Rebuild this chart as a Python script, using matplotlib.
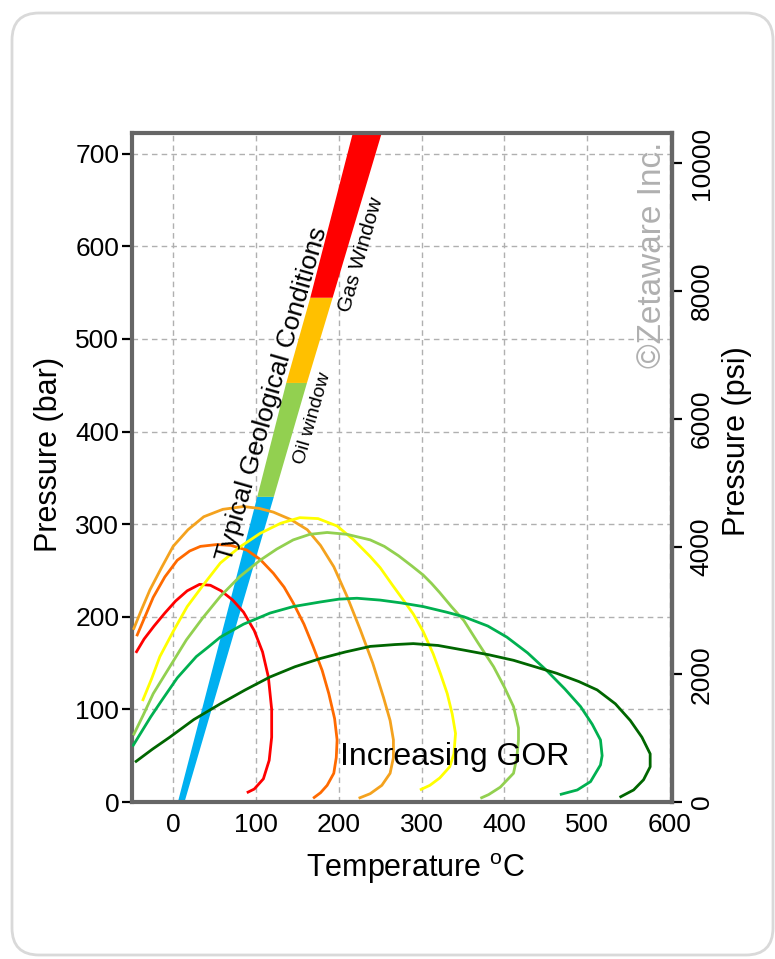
"""plot.py

Phase envelopes of reservoir fluids with increasing GOR, plotted against the
typical geological P-T path (oil window / gas window).
"""

import matplotlib
matplotlib.use("Agg")
import matplotlib.pyplot as plt
from matplotlib.patches import FancyBboxPatch


# ------------------------------- data ---------------------------------- #
# geological band: pressure cuts and left/right edge temperature at each cut
band_p = [0, 330, 453, 545, 725]
band_t_left = [5, 101, 136, 165, 217]
band_t_right = [13, 121, 161, 192, 252]
band_colors = ["#00B0F0", "#92D050", "#FFC000", "#FF0000"]

# phase envelopes, lowest GOR first (temperature degC, pressure bar)
red_t = [-45, -35, -23, -10, 3, 17, 32, 45, 58, 72, 85, 98, 108, 115, 119, 119, 116, 109, 98, 89]
red_p = [161, 176, 190, 204, 217, 228, 235, 234, 228, 218, 205, 185, 162, 135, 100, 70, 45, 25, 14, 10]

dorange_t = [-44, -34, -24, -10, 5, 20, 33, 53, 70, 89, 105, 121, 134, 145, 158, 169, 180, 188, 195, 198, 197, 194, 186, 178, 169]
dorange_p = [179, 200, 221, 243, 261, 271, 276, 278, 277, 272, 262, 247, 232, 215, 192, 168, 142, 117, 90, 67, 48, 31, 18, 10, 4]

amber_t = [-48, -38, -28, -14, 0, 18, 37, 60, 85, 104, 121, 142, 162, 178, 194, 210, 226, 241, 254, 262, 266, 266, 262, 252, 238, 224]
amber_p = [186, 208, 229, 253, 276, 294, 308, 316, 319, 317, 313, 305, 294, 277, 254, 222, 186, 150, 113, 88, 67, 48, 31, 18, 9, 4]

yellow_t = [-37, -26, -16, 0, 17, 37, 57, 80, 105, 130, 153, 175, 198, 218, 238, 250, 265, 278, 290, 302, 314, 323, 331, 337, 341, 339, 334, 322, 310, 298]
yellow_p = [109, 133, 157, 184, 211, 235, 258, 275, 290, 301, 307, 306, 298, 283, 265, 253, 234, 218, 203, 184, 160, 138, 117, 95, 74, 52, 38, 26, 18, 13]

lgreen_t = [-48, -36, -24, -4, 16, 36, 57, 80, 105, 125, 145, 165, 186, 210, 238, 255, 272, 288, 302, 312, 322, 336, 351, 368, 387, 400, 411, 417, 417, 415, 411, 395, 381, 371]
lgreen_p = [72, 94, 117, 146, 175, 199, 222, 243, 261, 273, 283, 289, 291, 289, 283, 276, 266, 255, 245, 236, 226, 211, 196, 172, 146, 124, 103, 80, 67, 48, 31, 16, 8, 4]

mgreen_t = [-49, -38, -27, -15, -5, 5, 15, 28, 42, 57, 85, 117, 145, 178, 200, 222, 250, 275, 302, 330, 351, 380, 403, 428, 451, 473, 492, 506, 516, 518, 516, 504, 488, 467]
mgreen_p = [60, 76, 92, 108, 121, 134, 144, 157, 167, 178, 192, 204, 211, 216, 219, 220, 218, 215, 211, 205, 200, 190, 178, 161, 142, 122, 103, 84, 67, 50, 40, 22, 13, 8]

dgreen_t = [-46, -25, -4, 25, 57, 87, 117, 147, 178, 208, 238, 268, 290, 320, 351, 381, 411, 437, 463, 490, 512, 534, 552, 566, 576, 576, 568, 556, 539]
dgreen_p = [43, 57, 70, 89, 106, 121, 135, 146, 155, 162, 168, 170, 171, 169, 164, 159, 153, 146, 139, 130, 121, 106, 88, 70, 52, 38, 24, 13, 5]

envelopes = [
    (red_t, red_p, "#FF0000"),
    (dorange_t, dorange_p, "#FF6A00"),
    (amber_t, amber_p, "#F4A21E"),
    (yellow_t, yellow_p, "#FFFF00"),
    (lgreen_t, lgreen_p, "#92D050"),
    (mgreen_t, mgreen_p, "#00B050"),
    (dgreen_t, dgreen_p, "#006600"),
]

x_ticks = [0, 100, 200, 300, 400, 500, 600]
bar_ticks = [0, 100, 200, 300, 400, 500, 600, 700]
psi_ticks = [0, 2000, 4000, 6000, 8000, 10000]
PSI_PER_BAR = 14.5038

# ------------------------------- style --------------------------------- #
plt.rcParams["font.family"] = ["Liberation Sans", "DejaVu Sans"]
plt.rcParams["mathtext.fontset"] = "custom"
plt.rcParams["mathtext.rm"] = "Liberation Sans"
SPINE = "#666666"

fig = plt.figure(figsize=(7.75, 9.59), dpi=100)

# rounded card behind the chart
card = FancyBboxPatch(
    (12 / 775, 1 - 955 / 959), 761 / 775, 942 / 959,
    boxstyle="round,pad=0,rounding_size=0.035", mutation_aspect=775 / 959,
    transform=fig.transFigure, fc="white", ec="#d9d9d9", lw=2, zorder=-10,
)
fig.add_artist(card)

ax = fig.add_axes([131.7 / 775, 1 - 802 / 959, 540 / 775, 668.7 / 959])
ax.set_xlim(-50, 602)
ax.set_ylim(0, 722)

# ------------------------------ drawing -------------------------------- #
for i, col in enumerate(band_colors):
    ax.fill_betweenx(band_p[i:i + 2], band_t_left[i:i + 2], band_t_right[i:i + 2],
                     color=col, lw=0, zorder=2)

for t, p, col in envelopes:
    ax.plot(t, p, color=col, lw=2, zorder=3, solid_joinstyle="round",
            solid_capstyle="butt")

ax.text(120, 440, "Typical Geological Conditions", rotation=74, fontsize=19,
        ha="center", va="center", rotation_mode="anchor", zorder=4)
ax.text(168, 414, "Oil window", rotation=74, fontsize=14,
        ha="center", va="center", rotation_mode="anchor", zorder=4)
ax.text(227, 591, "Gas Window", rotation=74, fontsize=15,
        ha="center", va="center", rotation_mode="anchor", zorder=4)
ax.text(340, 40, "Increasing GOR", fontsize=23, ha="center", va="baseline", zorder=4)
ax.text(579, 591, "\u00a9Zetaware Inc.", rotation=90, fontsize=24, color="#b0b0b0",
        ha="center", va="center", zorder=4)

# ------------------------------- axes ---------------------------------- #
ax.set_xticks(x_ticks)
ax.set_yticks(bar_ticks)
ax.grid(True, ls=(0, (4, 3)), color="#b0b0b0", lw=1)
ax.set_axisbelow(True)
ax.tick_params(axis="x", length=0, labelsize=19, pad=8)
ax.tick_params(axis="y", length=7, width=1.6, labelsize=19, pad=2)
for s in ax.spines.values():
    s.set_color(SPINE)
    s.set_linewidth(3)

ax.set_xlabel("Temperature $^{\\rm o}$C", fontsize=22)
ax.xaxis.set_label_coords(0.526, -0.074)
ax.set_ylabel("Pressure (bar)", fontsize=22)
ax.yaxis.set_label_coords(-0.125, 0.52)

ax2 = ax.secondary_yaxis("right", functions=(lambda b: b * PSI_PER_BAR,
                                             lambda p: p / PSI_PER_BAR))
ax2.set_yticks(psi_ticks)
ax2.tick_params(axis="y", length=7, width=1.6, labelsize=19, pad=6, labelrotation=90)
for lbl in ax2.get_yticklabels():
    lbl.set_va("center")
ax2.spines["right"].set_color(SPINE)
ax2.spines["right"].set_linewidth(3)
ax.text(1.121, 0.54, "Pressure (psi)", transform=ax.transAxes, rotation=90,
        fontsize=22, ha="center", va="center")

fig.savefig("out.png", dpi=100)
